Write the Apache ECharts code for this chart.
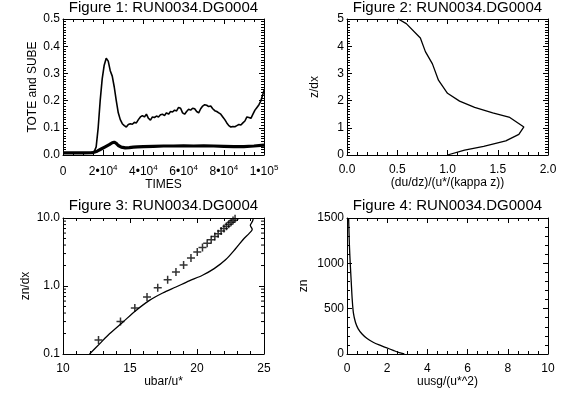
<!DOCTYPE html>
<html>
<head>
<meta charset="utf-8">
<script src="https://cdn.jsdelivr.net/npm/echarts@6/dist/echarts.min.js"></script>
<style>html,body{margin:0;padding:0;background:#fff;}#c{width:566px;height:396px;}</style>
</head>
<body>
<div id="c"></div>
<script>
// ---------- data ----------
const titles = ['Figure 1: RUN0034.DG0004','Figure 2: RUN0034.DG0004','Figure 3: RUN0034.DG0004','Figure 4: RUN0034.DG0004'];
const xNames = ['TIMES','(du/dz)/(u*/(kappa z))','ubar/u*','uusg/(u*^2)'];
const yNames = ['TOTE and SUBE','z/dx','zn/dx','zn'];

// Figure 1: TOTE (thin) and SUBE (thick) vs time
const toteTimes = [0,5000,10000,14000,15500,16500,17500,18500,19500,20500,21500,22500,23500,24500,25500,26500,27500,28500,29500,30500,31500,32500,33500,34500,35500,36500,37500,38500,39500,40500,41500,42500,43500,44500,45500,46500,47500,48500,49500,50500,51500,52500,53500,54500,55500,56500,57500,58500,59500,60500,61500,62500,63500,64500,65500,66500,67500,68500,69500,70500,71500,72500,73500,74500,75500,76500,77500,78500,79500,80500,81500,82500,83500,84500,85500,86500,87500,88500,89500,90500,91500,92500,93500,94500,95500,96500,97500,98500,99500,100000];
const toteValues = [0.008,0.008,0.008,0.009,0.012,0.03,0.1,0.2,0.28,0.33,0.356,0.345,0.31,0.29,0.25,0.2,0.155,0.13,0.115,0.108,0.103,0.112,0.115,0.113,0.12,0.118,0.13,0.14,0.145,0.14,0.15,0.135,0.128,0.14,0.138,0.143,0.14,0.148,0.15,0.145,0.155,0.15,0.16,0.158,0.165,0.162,0.175,0.172,0.155,0.15,0.16,0.168,0.165,0.172,0.17,0.16,0.155,0.17,0.18,0.185,0.183,0.178,0.18,0.17,0.163,0.16,0.155,0.15,0.14,0.13,0.118,0.108,0.103,0.105,0.104,0.108,0.112,0.11,0.118,0.125,0.14,0.138,0.135,0.15,0.165,0.175,0.185,0.2,0.225,0.238];
const subeTimes = [0,10000,15000,17000,19000,21000,23000,24500,25500,26500,27500,29000,31000,33000,35000,37000,40000,45000,50000,55000,60000,65000,70000,75000,80000,85000,90000,95000,100000];
const subeValues = [0.008,0.008,0.009,0.014,0.022,0.03,0.038,0.045,0.047,0.043,0.035,0.029,0.026,0.027,0.029,0.03,0.031,0.032,0.033,0.033,0.034,0.033,0.034,0.033,0.032,0.031,0.031,0.033,0.036];

// Figure 2: shear profile
const shearX = [1.0,1.17,1.36,1.58,1.71,1.76,1.62,1.45,1.27,1.12,1.0,0.91,0.85,0.78,0.73,0.59,0.51];
const shearZ = [0.0,0.18,0.32,0.52,0.76,1.03,1.38,1.55,1.75,1.98,2.27,2.75,3.35,3.8,4.3,4.83,5.0];

// Figure 3: mean velocity profile (line) and log-law reference (crosses)
const ubarX = [11.98,12.73,13.47,14.46,15.45,16.45,17.44,18.43,19.42,20.41,21.28,22.15,22.89,23.51,23.88,24.12,23.98,24.15,24.2];
const ubarZ = [0.1,0.141,0.198,0.294,0.437,0.614,0.789,0.966,1.19,1.44,1.8,2.45,3.56,5.0,5.9,6.8,7.8,9.0,10.0];
const logLawX = [12.65,14.29,15.36,16.27,17.07,17.81,18.43,19.0,19.55,20.02,20.41,20.76,21.06,21.33,21.58,21.80,22.01,22.20,22.37,22.54,22.69,22.84];
const logLawZ = [0.161,0.301,0.473,0.688,0.944,1.24,1.61,2.04,2.59,3.15,3.69,4.24,4.79,5.34,5.89,6.44,6.99,7.54,8.09,8.64,9.19,9.74];
const logMinorTicks = [0.2,0.3,0.4,0.5,0.6,0.7,0.8,0.9,2,3,4,5,6,7,8,9];

// Figure 4: uusg profile
const uusgX = [0.08,0.12,0.16,0.21,0.26,0.32,0.42,0.55,0.75,1.0,1.3,1.6,1.95,2.3,2.6,2.85];
const uusgZ = [1500,1200,1000,800,600,450,350,280,220,170,130,100,70,40,15,0];

// axis ranges / ticks
const xRanges = [[0,100000,20000,4],[0,2,0.5,5],[10,25,5,5],[0,10,2,4]];
const yRanges = [[0,0.5,0.1,10],[0,5,1,10],[0.1,10,null,0],[0,1500,500,5]];

// ---------- chart ----------
const FONT = '"Liberation Sans", Arial, Helvetica, sans-serif';
const zip = (a,b) => a.map((v,i)=>[v,b[i]]);
const grids = [
  {left:63, top:19, width:201, height:136},
  {left:347, top:19, width:201, height:136},
  {left:63, top:218, width:201, height:136},
  {left:347, top:218, width:201, height:136}
];
const lineBlack = {color:'#000', width:1};
function baseAxis(extra){
  return Object.assign({
    axisLine:{show:true, onZero:false, lineStyle:lineBlack},
    axisTick:{show:true, inside:true, length:5, lineStyle:lineBlack},
    splitLine:{show:false},
    axisLabel:{color:'#000', fontSize:12, fontFamily:FONT},
    nameTextStyle:{color:'#000', fontSize:12, fontFamily:FONT},
    nameLocation:'middle'
  }, extra);
}
const sciFmt = v => {
  if (v === 0) return '{b|0}';
  const e = Math.floor(Math.log10(v) + 1e-9);
  const m = Math.round(v / Math.pow(10, e));
  return '{b|' + m + '\u202210}{s|' + e + '}';
};
const xFmts = [sciFmt, v=>v.toFixed(1), v=>String(v), v=>String(v)];
const yFmts = [v=>v.toFixed(1), v=>String(v), v=>v.toFixed(1), v=>String(v)];
const yNameGaps = [24, 26, 31, 37];

const xAxes = [], yAxes = [];
for (let i=0;i<4;i++){
  const [xmin,xmax,xint,xminor] = xRanges[i];
  const [ymin,ymax,yint,yminor] = yRanges[i];
  const xCommon = {type:'value', gridIndex:i, min:xmin, max:xmax, interval:xint,
    minorTick:{show:true, splitNumber:xminor, length:3, lineStyle:lineBlack}};
  const xb = baseAxis(Object.assign({}, xCommon, {position:'bottom', name:xNames[i], nameGap:20}));
  xb.axisLabel = Object.assign({}, xb.axisLabel, {margin:9, formatter:xFmts[i]});
  if (i===0) {
    xb.axisLabel.rich = {
      b:{fontSize:12, color:'#000', fontFamily:FONT, verticalAlign:'bottom', lineHeight:14},
      s:{fontSize:8, color:'#000', fontFamily:FONT, verticalAlign:'top', lineHeight:9}
    };
  }
  xAxes.push(xb);
  xAxes.push(baseAxis(Object.assign({}, xCommon, {position:'top', axisLabel:{show:false}})));

  let yCommon;
  if (i===2) {
    yCommon = {type:'log', logBase:10, gridIndex:i, min:ymin, max:ymax};
  } else {
    yCommon = {type:'value', gridIndex:i, min:ymin, max:ymax, interval:yint,
      minorTick:{show:true, splitNumber:yminor, length:3, lineStyle:lineBlack}};
  }
  const yl = baseAxis(Object.assign({}, yCommon, {position:'left', name:yNames[i], nameGap:yNameGaps[i], nameRotate:90}));
  yl.axisLabel = Object.assign({}, yl.axisLabel, {margin:3, formatter:yFmts[i]});
  yAxes.push(yl);
  yAxes.push(baseAxis(Object.assign({}, yCommon, {position:'right', axisLabel:{show:false}})));
}

const plusPath = 'path://M3.25,0h1.5v3.25h3.25v1.5h-3.25v3.25h-1.5v-3.25h-3.25v-1.5h3.25z';

const series = [
  {type:'line', xAxisIndex:0, yAxisIndex:0, data:zip(toteTimes,toteValues), showSymbol:false, symbol:'none',
   lineStyle:{color:'#000', width:1.6}, animation:false},
  {type:'line', xAxisIndex:0, yAxisIndex:0, data:zip(subeTimes,subeValues), showSymbol:false, symbol:'none',
   lineStyle:{color:'#000', width:3.2}, animation:false},
  {type:'line', xAxisIndex:2, yAxisIndex:2, data:zip(shearX,shearZ), showSymbol:false, symbol:'none',
   lineStyle:{color:'#000', width:1.3}, animation:false},
  {type:'line', xAxisIndex:4, yAxisIndex:4, data:zip(ubarX,ubarZ), showSymbol:false, symbol:'none', smooth:0.3,
   lineStyle:{color:'#000', width:1.3}, animation:false},
  {type:'scatter', xAxisIndex:4, yAxisIndex:4, data:zip(logLawX,logLawZ), symbol:plusPath, symbolSize:8,
   itemStyle:{color:'#000'}, animation:false},
  {type:'custom', xAxisIndex:4, yAxisIndex:4, data:logMinorTicks.map(v=>[10,v]), animation:false, silent:true, clip:false,
   renderItem:(params, api) => {
     const v = api.value(1);
     const pL = api.coord([xRanges[2][0], v]);
     const pR = api.coord([xRanges[2][1], v]);
     return {type:'group', children:[
       {type:'line', shape:{x1:pL[0], y1:pL[1], x2:pL[0]+3, y2:pL[1]}, style:{stroke:'#000', lineWidth:1}},
       {type:'line', shape:{x1:pR[0]-3, y1:pR[1], x2:pR[0], y2:pR[1]}, style:{stroke:'#000', lineWidth:1}}
     ]};
   }},
  {type:'line', xAxisIndex:6, yAxisIndex:6, data:zip(uusgX,uusgZ), showSymbol:false, symbol:'none', smooth:0.3,
   lineStyle:{color:'#000', width:1.3}, animation:false}
];

const titleCenters = [[163.5,0],[447.5,0],[163.5,198],[447.5,198]];
const option = {
  backgroundColor:'#fff',
  animation:false,
  title: titles.map((t,i)=>({text:t, left:titleCenters[i][0], top:titleCenters[i][1], textAlign:'center', padding:0,
    textStyle:{color:'#000', fontSize:15, fontWeight:'normal', fontFamily:FONT}})),
  grid: grids,
  xAxis: xAxes,
  yAxis: yAxes,
  series: series
};
const chart = echarts.init(document.getElementById('c'), null, {renderer:'canvas'});
chart.setOption(option);
</script>
</body>
</html>
